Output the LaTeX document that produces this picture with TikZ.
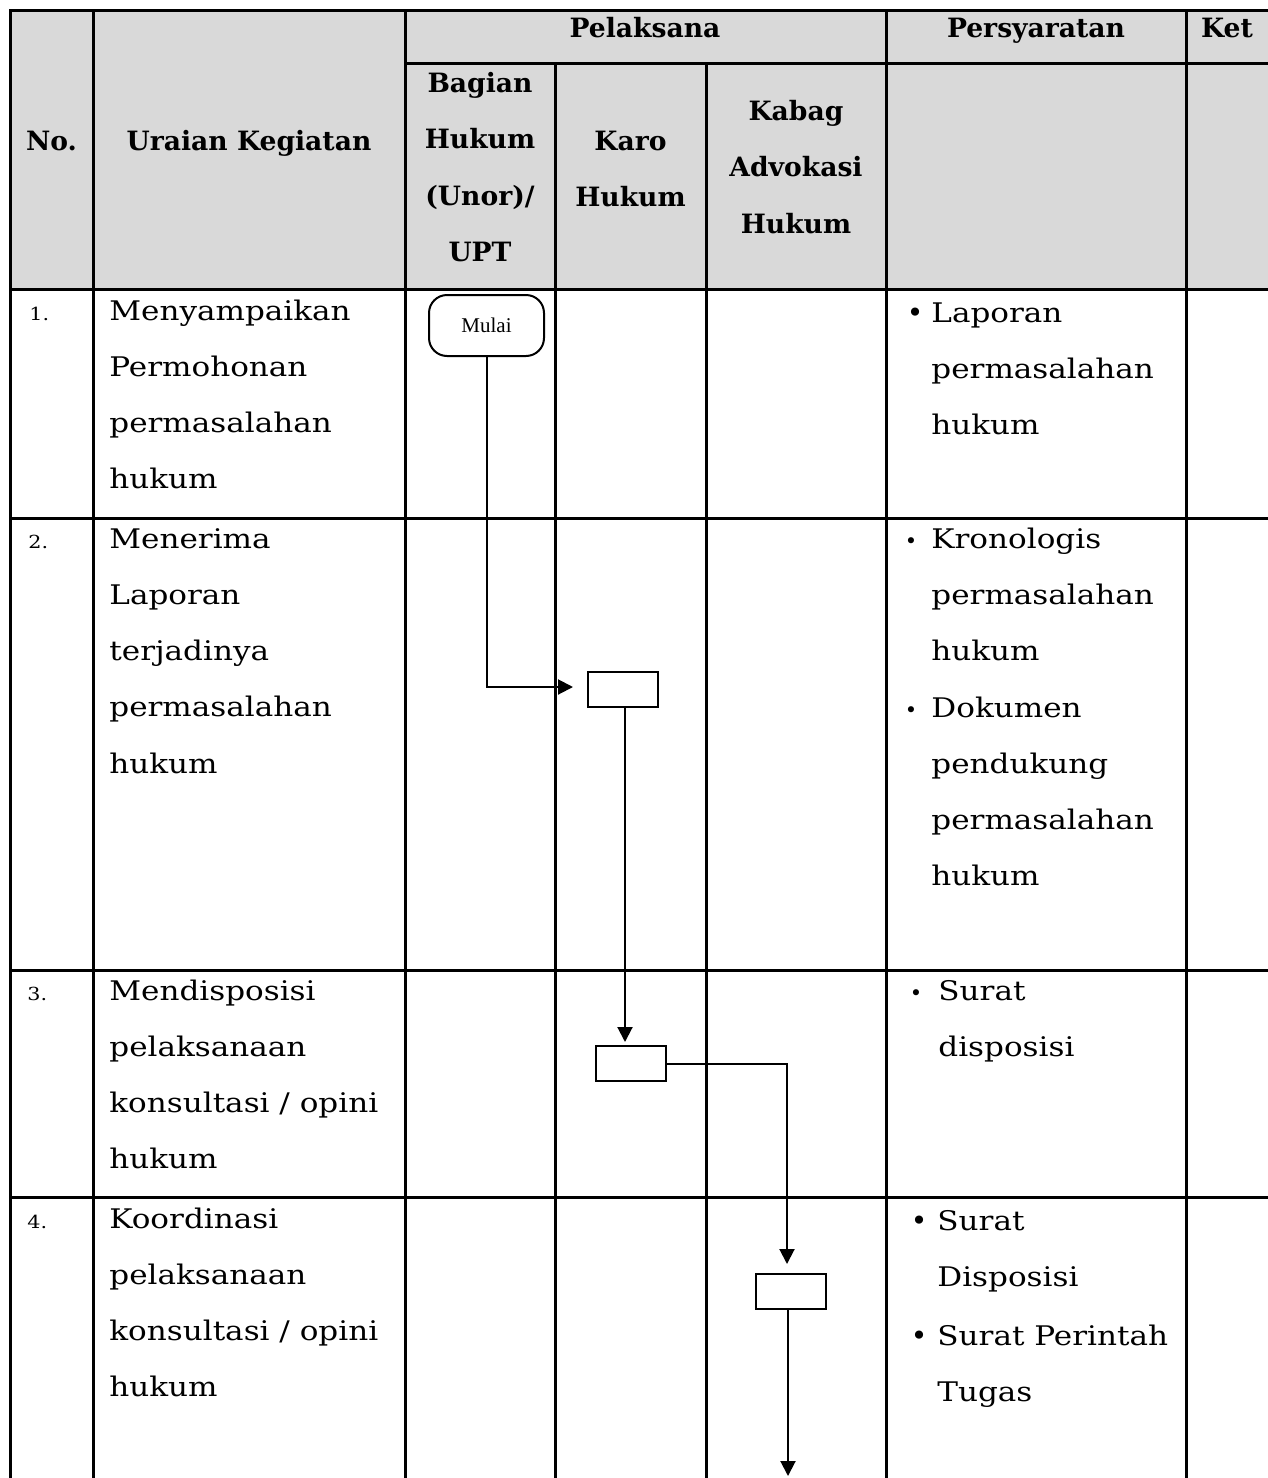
\documentclass[tikz,border=0pt]{standalone}
\usepackage{fontspec}
\setmainfont{DejaVu Serif}
\newfontfamily\bodyfont{DejaVu Serif}[FakeStretch=1.15]
\newfontfamily\mulaifont{Liberation Serif}
\usetikzlibrary{arrows.meta,calc}
\definecolor{headgray}{HTML}{D9D9D9}
\begin{document}
\begin{tikzpicture}[x=0.5pt,y=-0.5pt,
  grid/.style={line width=1.5pt},
  head/.style={font=\bfseries\fontsize{13.3}{28.25}\selectfont, align=center, anchor=base, inner sep=0pt},
  body/.style={font=\bodyfont\fontsize{13.5}{28.15}\selectfont, align=left, anchor=base west, inner sep=0pt},
  num/.style={font=\bodyfont\fontsize{9}{12}\selectfont, anchor=base west, inner sep=0pt},
  bigdot/.style={font=\fontsize{14}{14}\selectfont, anchor=base, inner sep=0pt},
  smalldot/.style={font=\fontsize{10.5}{10.5}\selectfont, anchor=base, inner sep=0pt},
  terminal/.style={draw, line width=1pt, rounded corners=9pt, minimum width=57.5pt, minimum height=30.5pt, inner sep=0pt, font=\mulaifont\fontsize{10.5}{12}\selectfont},
  procbox/.style={draw, line width=1pt, minimum width=35pt, minimum height=17.5pt, inner sep=0pt},
  flow/.style={line width=1pt, -{Triangle[length=7.5pt,width=7.5pt]}},
]
\useasboundingbox (0,0) rectangle (1268,1478);
% header background
\fill[headgray] (10,10) rectangle (1268,289);
% grid
\draw[grid] (1268,10) -- (10,10) -- (10,1478);
\draw[grid] (405,63) -- (1268,63);
\draw[grid] (10,289) -- (1268,289);
\draw[grid] (10,518) -- (1268,518);
\draw[grid] (10,970) -- (1268,970);
\draw[grid] (10,1197) -- (1268,1197);
\draw[grid] (93,10) -- (93,1478);
\draw[grid] (405,10) -- (405,1478);
\draw[grid] (555,63) -- (555,1478);
\draw[grid] (706,63) -- (706,1478);
\draw[grid] (886,10) -- (886,1478);
\draw[grid] (1186,10) -- (1186,1478);

% header texts (anchor = baseline of the last line)
\node[head] (hpel) at (645,37) {Pelaksana};
\node[head] (hper) at (1036,37) {Persyaratan};
\node[head] (hket) at (1227,37) {Ket};
\node[head] (hno) at (51.5,150) {No.};
\node[head] (hur) at (249,150) {Uraian Kegiatan};
\node[head] (hbag) at (480,261.5) {Bagian\\Hukum\\(Unor)/\\UPT};
\node[head] (hkaro) at (630.5,206.5) {Karo\\Hukum};
\node[head] (hkabag) at (796,233) {Kabag\\Advokasi\\Hukum};

% numbers
\node[num] (n1) at (29,320) {1.};
\node[num] (n2) at (28,548) {2.};
\node[num] (n3) at (27,1000) {3.};
\node[num] (n4) at (27,1228) {4.};

% uraian (anchor = baseline of the last line)
\node[body] (u1) at (109,488.9) {Menyampaikan\\Permohonan\\permasalahan\\hukum};
\node[body] (u2) at (109,773.2) {Menerima\\Laporan\\terjadinya\\permasalahan\\hukum};
\node[body] (u3) at (109,1168.9) {Mendisposisi\\pelaksanaan\\konsultasi / opini\\hukum};
\node[body] (u4) at (109,1396.9) {Koordinasi\\pelaksanaan\\konsultasi / opini\\hukum};

% persyaratan
\node[bigdot] (d1) at (915,322) {•};
\node[body] (p1) at (931,434.6) {Laporan\\permasalahan\\hukum};
\node[smalldot] (d2) at (911,548) {•};
\node[body] (p2) at (931,660.6) {Kronologis\\permasalahan\\hukum};
\node[smalldot] (d3) at (911,717) {•};
\node[body] (p3) at (931,885.9) {Dokumen\\pendukung\\permasalahan\\hukum};
\node[smalldot] (d4) at (916,1000) {•};
\node[body] (p4) at (938,1056.3) {Surat\\disposisi};
\node[bigdot] (d5) at (919,1230) {•};
\node[body] (p5) at (937,1286.3) {Surat\\Disposisi};
\node[bigdot] (d6) at (919,1345) {•};
\node[body] (p6) at (937,1401.3) {Surat Perintah\\Tugas};

% flow
\node[terminal] (mulai) at (486.5,325.5) {Mulai};
\node[procbox] (b1) at (623,689) {};
\node[procbox] (b2) at (631,1063.5) {};
\node[procbox] (b3) at (791,1291.5) {};
\coordinate (a1) at (573,687);
\coordinate (a2) at (625,1042);
\coordinate (a3) at (787,1264);
\coordinate (a4) at (788,1476);
\draw[flow] (mulai.south) |- (a1);
\draw[flow] (b1.south -| a2) -- (a2);
\draw[flow] (b2.east) -| (a3);
\draw[flow] (b3.south -| a4) -- (a4);
\end{tikzpicture}
\end{document}
